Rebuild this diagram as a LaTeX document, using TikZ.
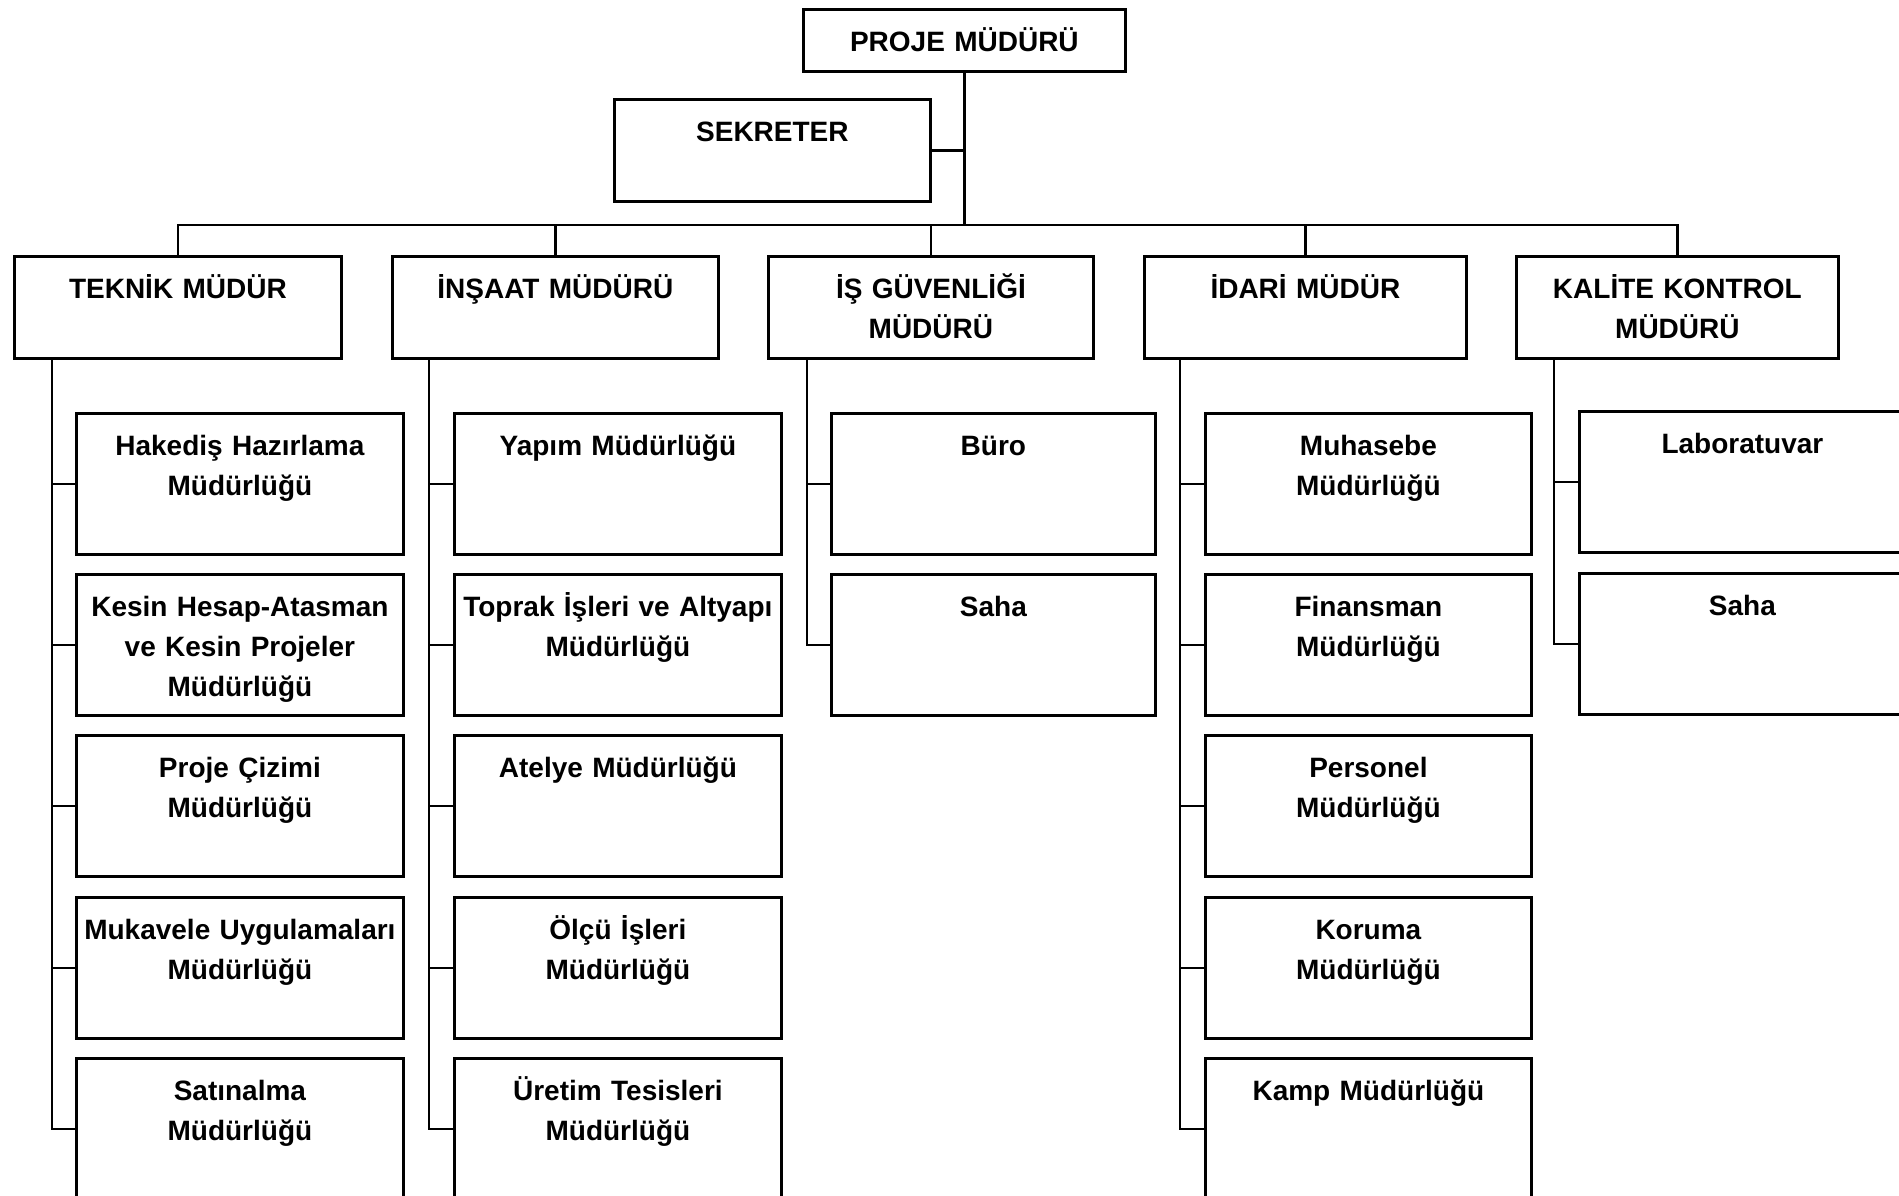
\documentclass[tikz,border=0pt]{standalone}
\usepackage{fontspec}
\setmainfont{Liberation Sans}
\begin{document}
\begin{tikzpicture}[x=1pt,y=-1pt,
  box/.style={draw, line width=2.8pt, inner sep=0pt, anchor=north west, align=center,
    font=\fontsize{28}{40}\selectfont\bfseries, text height=42pt},
  unit/.style={box, text width=#1, text depth=99pt},
  unit/.default=327pt,
  head/.style={box, text width=#1, text depth=60pt},
  link/.style={line width=2.4pt}]
\useasboundingbox (0,0) rectangle (1899,1196);
\fill[white] (0,0) rectangle (1899,1196);

% top of the hierarchy
\node[box, text width=322pt, text depth=20pt] (pm) at (802,8) {PROJE MÜDÜRÜ};
\node[head=316pt] (sek) at (613,98) {SEKRETER};

% directors
\node[head=327pt] (tek) at (13,255)   {TEKNİK MÜDÜR};
\node[head=326pt] (ins) at (391,255)  {İNŞAAT MÜDÜRÜ};
\node[head=325pt] (isg) at (767,255)  {İŞ GÜVENLİĞİ\\MÜDÜRÜ};
\node[head=322pt] (ida) at (1143,255) {İDARİ MÜDÜR};
\node[head=322pt] (kal) at (1515,255) {KALİTE KONTROL\\MÜDÜRÜ};

% units of the technical director
\node[unit] (t1) at (75,412)  {Hakediş Hazırlama\\Müdürlüğü};
\node[unit] (t2) at (75,573)  {Kesin Hesap-Atasman\\ve Kesin Projeler\\Müdürlüğü};
\node[unit] (t3) at (75,734)  {Proje Çizimi\\Müdürlüğü};
\node[unit] (t4) at (75,896)  {Mukavele Uygulamaları\\Müdürlüğü};
\node[unit] (t5) at (75,1057) {Satınalma\\Müdürlüğü};

% units of the construction director
\node[unit] (i1) at (453,412)  {Yapım Müdürlüğü};
\node[unit] (i2) at (453,573)  {Toprak İşleri ve Altyapı\\Müdürlüğü};
\node[unit] (i3) at (453,734)  {Atelye Müdürlüğü};
\node[unit] (i4) at (453,896)  {Ölçü İşleri\\Müdürlüğü};
\node[unit] (i5) at (453,1057) {Üretim Tesisleri\\Müdürlüğü};

% units of the safety director
\node[unit=324pt] (g1) at (830,412) {Büro};
\node[unit=324pt] (g2) at (830,573) {Saha};

% units of the administrative director
\node[unit=326pt] (a1) at (1204,412)  {Muhasebe\\Müdürlüğü};
\node[unit=326pt] (a2) at (1204,573)  {Finansman\\Müdürlüğü};
\node[unit=326pt] (a3) at (1204,734)  {Personel\\Müdürlüğü};
\node[unit=326pt] (a4) at (1204,896)  {Koruma\\Müdürlüğü};
\node[unit=326pt] (a5) at (1204,1057) {Kamp Müdürlüğü};

% units of the quality control director
\node[unit=326pt] (k1) at (1578,410) {Laboratuvar};
\node[unit=326pt] (k2) at (1578,572) {Saha};

% trunk, secretary branch and the common bus
\coordinate (bus) at (960,225);
\draw[link] (pm.south) -- (pm.south |- bus);
\draw[link] (sek.east) -- (sek.east -| pm.south);
\draw[link] (tek.north) -- (tek.north |- bus) -- (kal.north |- bus) -- (kal.north);
\foreach \d in {ins,isg,ida}
  \draw[link] (\d.north) -- (\d.north |- bus);

% spines below each director
\coordinate (tekS) at (52,357);
\coordinate (insS) at (429,357);
\coordinate (isgS) at (807,357);
\coordinate (idaS) at (1180,357);
\coordinate (kalS) at (1554,357);

\draw[link] (tekS) |- (t5.west);
\foreach \u in {t1,t2,t3,t4} \draw[link] (\u.west) -- (\u.west -| tekS);
\draw[link] (insS) |- (i5.west);
\foreach \u in {i1,i2,i3,i4} \draw[link] (\u.west) -- (\u.west -| insS);
\draw[link] (isgS) |- (g2.west);
\draw[link] (g1.west) -- (g1.west -| isgS);
\draw[link] (idaS) |- (a5.west);
\foreach \u in {a1,a2,a3,a4} \draw[link] (\u.west) -- (\u.west -| idaS);
\draw[link] (kalS) |- (k2.west);
\draw[link] (k1.west) -- (k1.west -| kalS);
\end{tikzpicture}
\end{document}
